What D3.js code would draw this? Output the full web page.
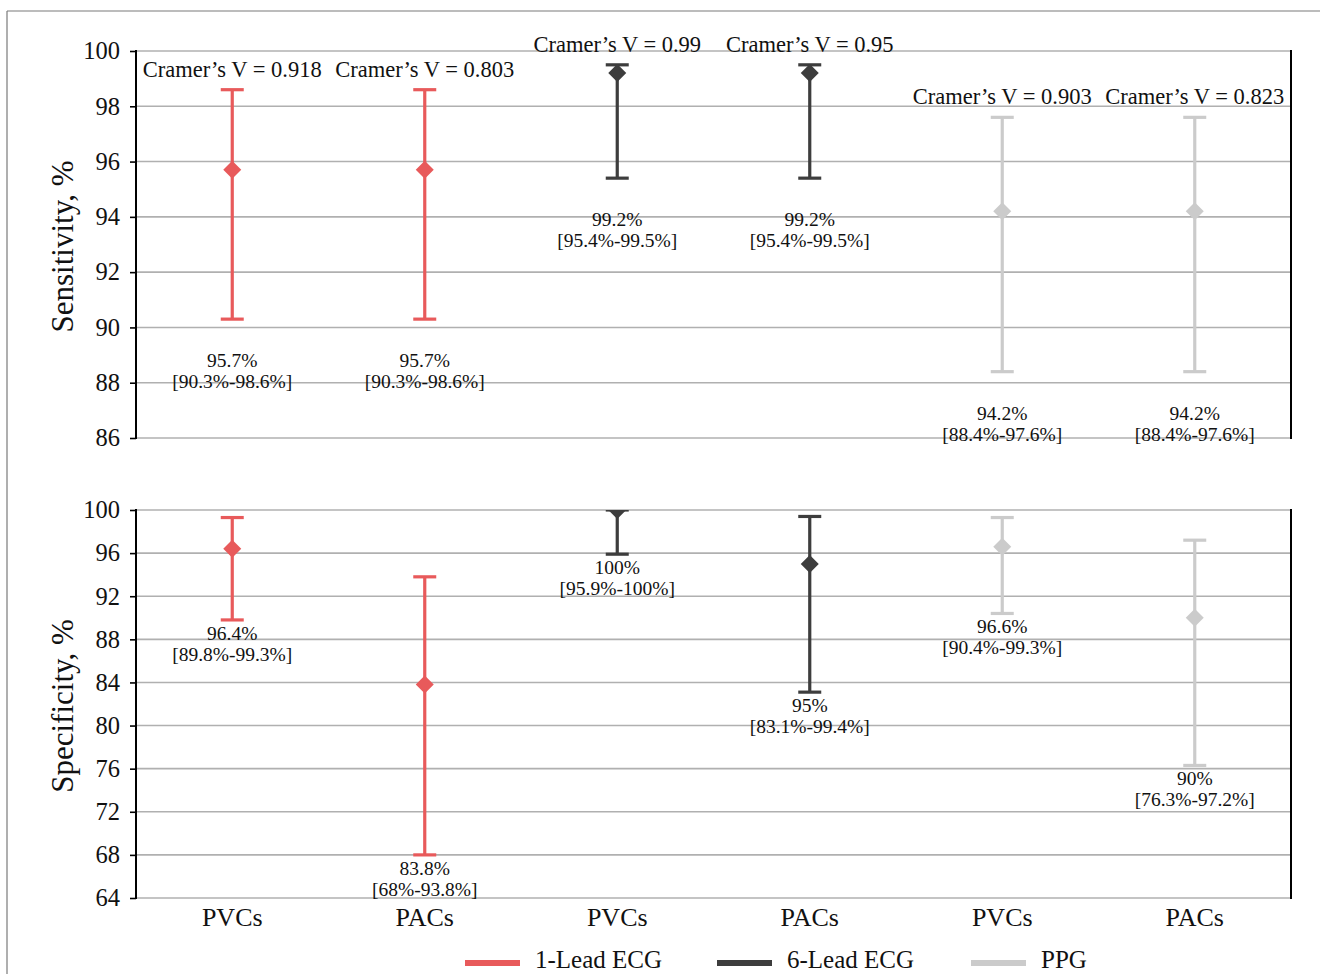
<!DOCTYPE html>
<html>
<head>
<meta charset="utf-8">
<script src="https://cdn.jsdelivr.net/npm/d3@7"></script>
<style>
  html, body { margin: 0; padding: 0; background: #fff; }
  svg { display: block; }
  text { font-family: "Liberation Serif", "DejaVu Serif", serif; fill: #111; }
</style>
</head>
<body>
<svg id="chart" width="1320" height="974"></svg>
<script>
// ---- data ----
const categories = ["PVCs", "PACs", "PVCs", "PACs", "PVCs", "PACs"];
const devices = ["1-Lead ECG", "1-Lead ECG", "6-Lead ECG", "6-Lead ECG", "PPG", "PPG"];
const legendLabels = ["1-Lead ECG", "6-Lead ECG", "PPG"];
const deviceColors = ["#e85a5b", "#3d3d3d", "#cbcbcb"];

const sensValue = [95.7, 95.7, 99.2, 99.2, 94.2, 94.2];
const sensLow   = [90.3, 90.3, 95.4, 95.4, 88.4, 88.4];
const sensHigh  = [98.6, 98.6, 99.5, 99.5, 97.6, 97.6];
const cramersV  = ["0.918", "0.803", "0.99", "0.95", "0.903", "0.823"];

const specValue = [96.4, 83.8, 100, 95, 96.6, 90];
const specLow   = [89.8, 68, 95.9, 83.1, 90.4, 76.3];
const specHigh  = [99.3, 93.8, 100, 99.4, 99.3, 97.2];

const sensTicks = [86, 88, 90, 92, 94, 96, 98, 100];
const specTicks = [64, 68, 72, 76, 80, 84, 88, 92, 96, 100];

// ---- layout ----
const svg = d3.select("#chart");
const W = 1320, H = 974;
const left = 136, right = 1291;

// outer frame
svg.append("line").attr("x1", 7).attr("x2", W).attr("y1", 11).attr("y2", 11)
  .attr("stroke", "#7a7a7a").attr("stroke-width", 1.2);
svg.append("line").attr("x1", 7).attr("x2", 7).attr("y1", 11).attr("y2", H)
  .attr("stroke", "#7a7a7a").attr("stroke-width", 1.2);

const x = d3.scaleBand().domain(d3.range(categories.length)).range([left, right]).padding(0);
const cx = i => x(i) + x.bandwidth() / 2;
const color = d => deviceColors[legendLabels.indexOf(d)];

function panel(cfg) {
  const y = d3.scaleLinear().domain(cfg.domain).range([cfg.bottom, cfg.top]);
  const g = svg.append("g");
  const clipId = "clip" + cfg.name;
  svg.append("clipPath").attr("id", clipId).append("rect")
    .attr("x", left).attr("y", cfg.top).attr("width", right - left).attr("height", cfg.bottom - cfg.top);

  // grid
  g.append("g").selectAll("line").data(cfg.ticks).join("line")
    .attr("x1", left).attr("x2", right)
    .attr("y1", d => y(d)).attr("y2", d => y(d))
    .attr("stroke", "#b0b0b0").attr("stroke-width", 1.6);

  // left axis
  const axis = d3.axisLeft(y).tickValues(cfg.ticks).tickSize(6).tickPadding(10).tickFormat(d3.format("d"));
  const ag = g.append("g").attr("transform", `translate(${left},0)`).call(axis);
  ag.select(".domain").remove();
  ag.selectAll(".tick line").attr("stroke", "#000").attr("stroke-width", 1.6);
  ag.selectAll(".tick text").attr("font-size", 24.5).attr("fill", "#111")
    .attr("font-family", "Liberation Serif, serif");

  // spines
  [left, right].forEach(sx => {
    g.append("line").attr("x1", sx).attr("x2", sx).attr("y1", cfg.top).attr("y2", cfg.bottom)
      .attr("stroke", "#000").attr("stroke-width", 2).attr("stroke-linecap", "square");
  });

  // y label
  g.append("text")
    .attr("transform", `translate(62,${(cfg.top + cfg.bottom) / 2 + 2}) rotate(-90)`)
    .attr("text-anchor", "middle").attr("dy", "0.35em")
    .attr("font-size", 31).text(cfg.label);

  // error bars
  const eb = g.append("g").attr("clip-path", `url(#${clipId})`);
  const capHalf = 11.5;
  cfg.value.forEach((v, i) => {
    const c = color(devices[i]);
    const xc = cx(i);
    eb.append("line").attr("x1", xc).attr("x2", xc)
      .attr("y1", y(cfg.low[i])).attr("y2", y(cfg.high[i]))
      .attr("stroke", c).attr("stroke-width", 3.2);
    [cfg.low[i], cfg.high[i]].forEach(e => {
      eb.append("line").attr("x1", xc - capHalf).attr("x2", xc + capHalf)
        .attr("y1", y(e)).attr("y2", y(e))
        .attr("stroke", c).attr("stroke-width", 3.2);
    });
    const r = 9;
    const yv = y(v);
    eb.append("path")
      .attr("d", `M${xc},${yv - r}L${xc + r},${yv}L${xc},${yv + r}L${xc - r},${yv}Z`)
      .attr("fill", c);
  });

  // value labels
  cfg.value.forEach((v, i) => {
    const ly = y(cfg.low[i] - cfg.labelOffset) + cfg.labelShift;
    const t = g.append("text").attr("text-anchor", "middle").attr("font-size", 19.5);
    t.append("tspan").attr("x", cx(i)).attr("y", ly).attr("dy", "0.35em").text(`${v}%`);
    t.append("tspan").attr("x", cx(i)).attr("y", ly + 21).attr("dy", "0.35em")
      .text(`[${cfg.low[i]}%-${cfg.high[i]}%]`);
  });

  return y;
}

const ySens = panel({
  name: "sens", domain: [86, 100], top: 51, bottom: 438, ticks: sensTicks,
  label: "Sensitivity, %", value: sensValue, low: sensLow, high: sensHigh,
  labelOffset: 1.5, labelShift: 0
});

// Cramer's V annotations
cramersV.forEach((v, i) => {
  svg.append("text").attr("x", cx(i)).attr("y", ySens(sensHigh[i]) - 21)
    .attr("dy", "0.35em").attr("text-anchor", "middle").attr("font-size", 22.5)
    .text(`Cramer\u2019s V = ${v}`);
});

const ySpec = panel({
  name: "spec", domain: [64, 100], top: 510, bottom: 898, ticks: specTicks,
  label: "Specificity, %", value: specValue, low: specLow, high: specHigh,
  labelOffset: 1.2, labelShift: 0
});

// x tick labels
svg.append("g").selectAll("text").data(categories).join("text")
  .attr("x", (d, i) => cx(i)).attr("y", 917).attr("dy", "0.35em")
  .attr("text-anchor", "middle").attr("font-size", 26).text(d => d);

// legend
const legendX = [465, 717, 971];
legendLabels.forEach((lab, i) => {
  svg.append("line").attr("x1", legendX[i]).attr("x2", legendX[i] + 55)
    .attr("y1", 963).attr("y2", 963).attr("stroke", deviceColors[i]).attr("stroke-width", 6);
  svg.append("text").attr("x", legendX[i] + 70).attr("y", 968)
    .attr("font-size", 25).text(lab);
});
</script>
</body>
</html>
